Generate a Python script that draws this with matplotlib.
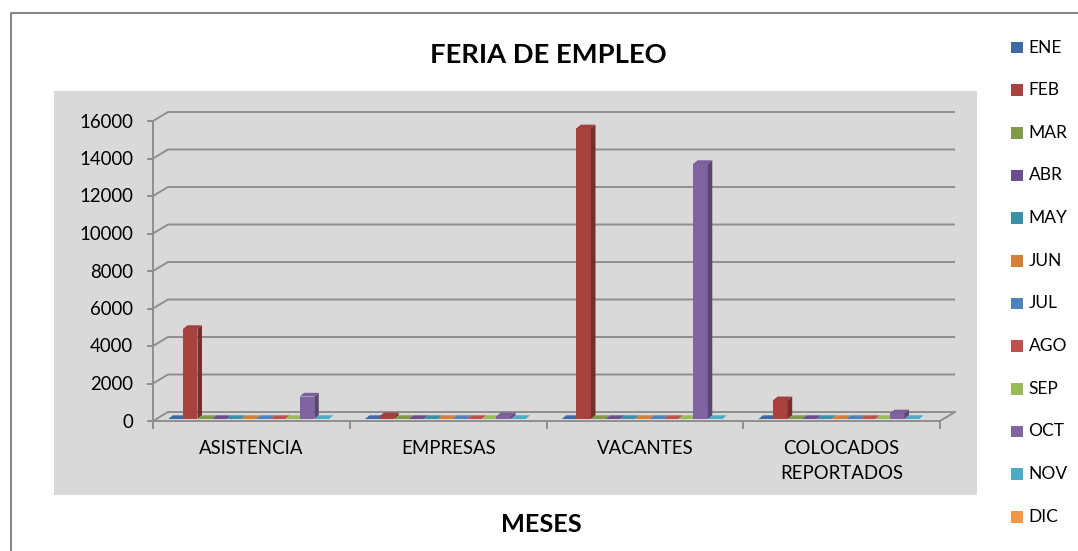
import matplotlib
matplotlib.use("Agg")
import matplotlib.pyplot as plt
from matplotlib.patches import Polygon, Rectangle
from matplotlib.lines import Line2D
import numpy as np

plt.rcParams['font.family'] = ['Lato', 'DejaVu Sans']

categories = ["ASISTENCIA", "EMPRESAS", "VACANTES", "COLOCADOS\nREPORTADOS"]
months = ["ENE", "FEB", "MAR", "ABR", "MAY", "JUN", "JUL", "AGO", "SEP", "OCT", "NOV", "DIC"]
colors = ["#3F6AA5", "#A9423F", "#7F9B48", "#6A4F8C", "#3A90A8", "#D77F36",
          "#4F81BD", "#C0504D", "#9BBB59", "#8064A2", "#4BACC6", "#F79646"]
# values[month][category]; None = no data (no bar drawn)
values = {
    "ENE": [0, 0, 0, 0],
    "FEB": [4800, 150, 15500, 1000],
    "MAR": [0, 0, 0, 0],
    "ABR": [0, 0, 0, 0],
    "MAY": [0, 0, 0, 0],
    "JUN": [0, 0, 0, 0],
    "JUL": [0, 0, 0, 0],
    "AGO": [0, 0, 0, 0],
    "SEP": [0, 0, 0, 0],
    "OCT": [1200, 150, 13600, 300],
    "NOV": [0, 0, 0, 0],
    "DIC": [None, None, None, None],
}
yticks = [0, 2000, 4000, 6000, 8000, 10000, 12000, 14000, 16000]

W, H = 1078, 551
fig = plt.figure(figsize=(W / 100, H / 100), dpi=100)
fig.patch.set_facecolor("white")

# plot area in pixels
L, R, T, B = 54, 977, 91, 495
ax = fig.add_axes([L / W, (H - B) / H, (R - L) / W, (B - T) / H])
ax.set_facecolor("#D9D9D9")
for s in ax.spines.values():
    s.set_visible(False)
ax.set_xticks([]); ax.set_yticks([])

X0 = 153.0
PXX = 196.75            # px per category
PXY = 300.0 / 16000.0   # px per value unit
Y0 = 421.0
ax.set_xlim((L - X0) / PXX, (R - X0) / PXX)
ax.set_ylim((Y0 - B) / PXY, (Y0 - T) / PXY)

def dx(px):
    return px / PXX

def dy(px):
    return px / PXY

gc = "#8E8E8E"
glw = 1.4
wdx, wdy = dx(15), dy(9)
ncat = len(categories)

# gridlines (side wall slant + back wall)
for v in yticks:
    ax.plot([0, wdx, ncat + wdx], [v, v + wdy, v + wdy], color=gc, lw=glw, zorder=1,
            solid_capstyle="butt")
    ax.plot([-dx(5), 0], [v, v], color=gc, lw=glw, zorder=1)
# vertical axis
ax.plot([0, 0], [yticks[-1], -dy(6)], color=gc, lw=glw, zorder=1)
# floor outline
ax.plot([0, ncat, ncat + wdx], [0, 0, wdy], color=gc, lw=glw, zorder=1)
for i in range(ncat + 1):
    ax.plot([i, i], [0, -dy(7)], color=gc, lw=glw, zorder=1)

# bars
nser = len(months)
bw = dx(14.6)
gap = (1 - nser * bw) / 2
sx, sy = dx(4.5), dy(2)
bdx, bdy = dx(4.5), dy(3.7)

def shade(c, f):
    rgb = np.array(matplotlib.colors.to_rgb(c))
    if f < 1:
        return tuple(rgb * f)
    return tuple(rgb + (1 - rgb) * (f - 1))

z = 2
for ci in range(ncat):
    for si, m in enumerate(months):
        v = values[m][ci]
        if v is None:
            continue
        c = colors[si]
        x1 = ci + gap + si * bw + sx
        x2 = x1 + bw
        yb = sy
        yt = sy + v
        if v > 0:
            ax.add_patch(Polygon([(x1, yb), (x2, yb), (x2, yt), (x1, yt)], closed=True,
                                 facecolor=c, edgecolor="none", zorder=z))
            ax.add_patch(Polygon([(x2, yb), (x2 + bdx, yb + bdy), (x2 + bdx, yt + bdy), (x2, yt)],
                                 closed=True, facecolor=shade(c, 0.7), edgecolor="none", zorder=z))
        ax.add_patch(Polygon([(x1, yt), (x2, yt), (x2 + bdx, yt + bdy), (x1 + bdx, yt + bdy)],
                             closed=True, facecolor=shade(c, 0.95 if v > 0 else 1.0),
                             edgecolor="none", zorder=z + 0.5))
        z += 1

# y tick labels
fs_tick = 13.4
for v in yticks:
    ax.text(dx(-20), v - dy(1), str(v), ha="right", va="center", fontsize=fs_tick, color="black")

# category labels
for ci, cat in enumerate(categories):
    yc = 461 if "\n" in cat else 448
    ax.text(ci + 0.5, (Y0 - yc) / PXY, cat, ha="center", va="center",
            fontsize=fs_tick, color="black", linespacing=1.6)

# title and axis title
fig.text(548 / W, 1 - 55 / H, "FERIA DE EMPLEO", ha="center", va="center",
         fontsize=19.7, fontweight="bold")
fig.text(541.5 / W, 1 - 524 / H, "MESES", ha="center", va="center",
         fontsize=18.3, fontweight="bold")

# legend (manual)
for i, (m, c) in enumerate(zip(months, colors)):
    yc = 47.5 + i * 42.66
    fig.patches.append(Rectangle((1011 / W, 1 - (yc + 5.8) / H), 11.7 / W, 11.7 / H,
                                 transform=fig.transFigure, facecolor=c, edgecolor="none"))
    fig.text(1028.5 / W, 1 - yc / H, m, ha="left", va="center", fontsize=12.5)

# outer border
fig.add_artist(Line2D([11 / W, 11 / W, 1.0], [0.0, 1 - 13 / H, 1 - 13 / H],
                      transform=fig.transFigure, color="#888888", lw=1.5))

fig.savefig("out.png", dpi=100)
